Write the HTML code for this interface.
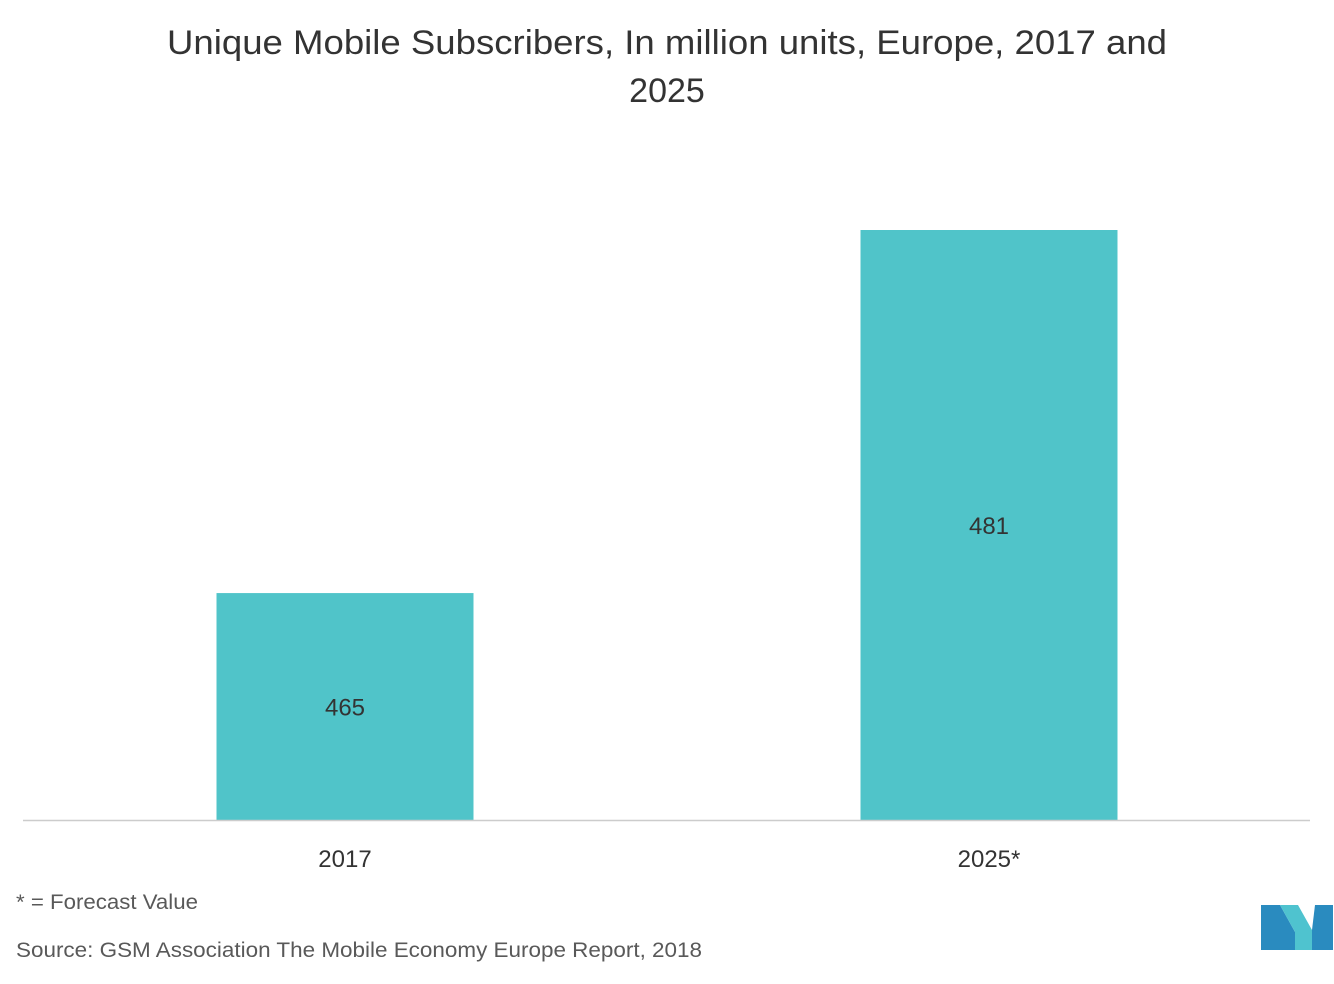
<!DOCTYPE html>
<html><head><meta charset="utf-8"><style>
body{margin:0;background:#fff;font-family:"Liberation Sans",sans-serif;}
</style></head><body>
<svg width="1334" height="979" xmlns="http://www.w3.org/2000/svg">
<text x="167" y="54" font-size="34" fill="#333" textLength="1000" lengthAdjust="spacingAndGlyphs">Unique Mobile Subscribers, In million units, Europe, 2017 and</text>
<text x="667" y="102" text-anchor="middle" font-size="34" fill="#333">2025</text>
<g id="bars"></g>
<line x1="23" y1="820.5" x2="1310" y2="820.5" stroke="#ccc" stroke-width="1.5"/>
<text x="16" y="909" font-size="21" fill="#595959" textLength="182" lengthAdjust="spacingAndGlyphs">* = Forecast Value</text>
<text x="16" y="957" font-size="21" fill="#595959" textLength="686" lengthAdjust="spacingAndGlyphs">Source: GSM Association The Mobile Economy Europe Report, 2018</text>
<g>
<polygon points="1261,950 1261,905 1280,905 1295,932 1295,950" fill="#2a8bbf"/>
<polygon points="1280,905 1298,905 1312,930 1312,950 1295,950 1295,932" fill="#4fc3cf"/>
<polygon points="1312,930 1315,905 1333,905 1333,950 1312,950" fill="#2a8bbf"/>
</g>
</svg>
<script>
const categories=["2017","2025*"];
const values=[465,481];
const yMin=455, yMax=481;
const base=820, topPx=230;
const y=v=>base-(v-yMin)/(yMax-yMin)*(base-topPx);
const centers=[345,989], bw=257;
const g=document.getElementById('bars');
const ns="http://www.w3.org/2000/svg";
categories.forEach((c,i)=>{
 const r=document.createElementNS(ns,'rect');
 r.setAttribute('x',centers[i]-bw/2);r.setAttribute('y',y(values[i]));
 r.setAttribute('width',bw);r.setAttribute('height',base-y(values[i]));
 r.setAttribute('fill','#50c4c9');
 
 
 g.appendChild(r);
 const t=document.createElementNS(ns,'text');
 t.setAttribute('x',centers[i]);t.setAttribute('y',(y(values[i])+base)/2+9);
 t.setAttribute('text-anchor','middle');t.setAttribute('font-size','24');t.setAttribute('fill','#333');
 t.textContent=values[i];
 
 
 g.appendChild(t);
 const l=document.createElementNS(ns,'text');
 l.setAttribute('x',centers[i]);l.setAttribute('y',867);
 l.setAttribute('text-anchor','middle');l.setAttribute('font-size','24');l.setAttribute('fill','#333');
 l.textContent=c;
 
 
 g.appendChild(l);
});
</script>
</body></html>
